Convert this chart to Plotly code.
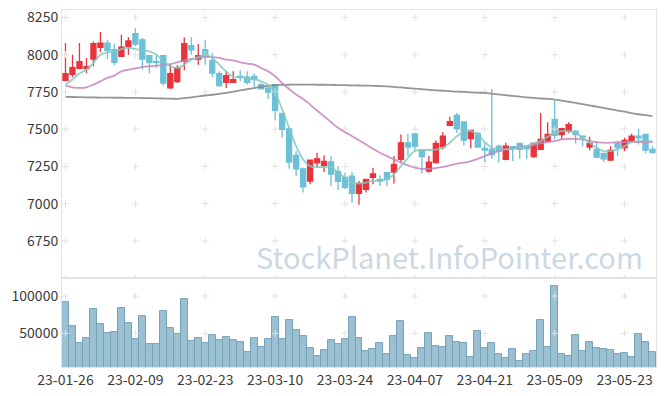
import pandas as pd
import plotly.graph_objects as go
from plotly.subplots import make_subplots

# ---- data -------------------------------------------------------------
holidays = ["2023-03-01", "2023-05-01", "2023-05-05", "2023-05-29"]
days = [d for d in pd.bdate_range("2023-01-26", "2023-05-30") if d.strftime("%Y-%m-%d") not in holidays]
dates = [d.strftime("%y-%m-%d") for d in days]

opens = [7828, 7868, 7908, 7906, 7971, 8049, 8078, 8033, 7989, 8056,
         8141, 8100, 7993, 7953, 7993, 7777, 7819, 7955, 8060, 7971,
         8033, 7960, 7873, 7815, 7815, 7855, 7850, 7855, 7799, 7775,
         7799, 7605, 7502, 7324, 7234, 7152, 7274, 7257, 7281, 7217,
         7176, 7185, 7069, 7096, 7176, 7163, 7208, 7212, 7297, 7408,
         7469, 7360, 7219, 7275, 7382, 7525, 7592, 7549, 7437, 7471,
         7371, 7364, 7386, 7297, 7382, 7404, 7382, 7315, 7364, 7420,
         7565, 7464, 7487, 7487, 7453, 7380, 7364, 7337, 7292, 7404,
         7375, 7420, 7453, 7464, 7364]
highs = [8078, 8000, 8078, 7978, 8089, 8152, 8100, 8074, 8134, 8118,
         8179, 8112, 8000, 8000, 7993, 7933, 7929, 8116, 8118, 8071,
         8100, 8011, 7888, 7888, 7888, 7895, 7888, 7873, 7810, 7783,
         7799, 7605, 7502, 7353, 7241, 7297, 7342, 7324, 7319, 7252,
         7208, 7212, 7152, 7163, 7241, 7190, 7212, 7319, 7464, 7469,
         7469, 7364, 7319, 7426, 7480, 7583, 7609, 7549, 7491, 7480,
         7408, 7770, 7397, 7408, 7386, 7404, 7386, 7404, 7609, 7547,
         7692, 7509, 7547, 7493, 7453, 7449, 7420, 7342, 7386, 7404,
         7442, 7469, 7502, 7469, 7386]
lows = [7821, 7850, 7904, 7877, 7922, 8016, 7971, 7929, 7989, 8000,
        8056, 7900, 7873, 7911, 7792, 7770, 7810, 7895, 8000, 7933,
        7933, 7850, 7783, 7777, 7810, 7821, 7800, 7783, 7766, 7703,
        7560, 7442, 7234, 7185, 7074, 7130, 7241, 7212, 7119, 7092,
        7097, 7006, 6992, 7074, 7130, 7118, 7118, 7136, 7279, 7319,
        7353, 7203, 7208, 7270, 7364, 7525, 7475, 7391, 7371, 7375,
        7279, 7301, 7275, 7292, 7286, 7301, 7301, 7308, 7364, 7420,
        7431, 7431, 7475, 7404, 7386, 7359, 7308, 7279, 7290, 7319,
        7353, 7408, 7397, 7337, 7337]
closes = [7873, 7913, 7953, 7920, 8074, 8078, 8029, 7949, 8051, 8092,
          8071, 7971, 7949, 7949, 7810, 7873, 7911, 8074, 8033, 7993,
          7989, 7877, 7792, 7859, 7833, 7848, 7815, 7833, 7770, 7748,
          7627, 7498, 7279, 7234, 7112, 7292, 7301, 7284, 7199, 7150,
          7109, 7069, 7136, 7163, 7199, 7152, 7163, 7263, 7408, 7380,
          7386, 7315, 7279, 7404, 7453, 7551, 7502, 7426, 7491, 7380,
          7360, 7330, 7353, 7386, 7371, 7364, 7368, 7404, 7431, 7464,
          7458, 7504, 7531, 7464, 7446, 7404, 7312, 7301, 7357, 7377,
          7424, 7453, 7442, 7360, 7342]
volumes = [91500, 59400, 36600, 43300, 82200, 62100, 50000, 51300, 83500, 63400,
           42000, 72800, 35300, 35300, 79500, 56700, 48700, 95600, 39300, 43300,
           36600, 47300, 40600, 44600, 40600, 37900, 24500, 43300, 31200, 42000,
           71400, 42000, 67400, 54000, 46000, 29900, 19200, 27200, 40600, 35300,
           42000, 71400, 43300, 26300, 28600, 36600, 21900, 46000, 66100, 20500,
           16500, 29900, 50000, 32600, 31200, 46000, 38400, 36600, 17800, 52700,
           29900, 36600, 21900, 16500, 28600, 12500, 21900, 25900, 67400, 31200,
           113000, 21900, 19200, 47300, 25900, 37900, 29900, 28600, 27200, 21900,
           23200, 17800, 48700, 37900, 24500]
ma5 = [7799, 7833, 7873, 7900, 7944, 8000, 8016, 8022, 8038, 8045,
       8038, 8029, 8022, 8000, 7955, 7922, 7911, 7933, 7967, 7984,
       8000, 7978, 7933, 7888, 7850, 7848, 7844, 7837, 7821, 7799,
       7743, 7632, 7509, 7386, 7297, 7252, 7246, 7246, 7246, 7208,
       7174, 7141, 7134, 7141, 7152, 7156, 7163, 7196, 7252, 7308,
       7353, 7360, 7360, 7362, 7375, 7409, 7453, 7480, 7487, 7464,
       7413, 7375, 7364, 7364, 7368, 7375, 7386, 7404, 7420, 7449,
       7475, 7487, 7487, 7475, 7442, 7409, 7375, 7353, 7353, 7364,
       7386, 7413, 7420, 7420, 7420]
ma20 = [7792, 7781, 7777, 7781, 7799, 7821, 7844, 7859, 7888, 7900,
        7908, 7917, 7922, 7926, 7931, 7937, 7949, 7960, 7971, 7978,
        7984, 7984, 7978, 7967, 7962, 7949, 7940, 7933, 7911, 7888,
        7855, 7810, 7770, 7732, 7703, 7665, 7625, 7587, 7547, 7509,
        7480, 7453, 7426, 7397, 7368, 7342, 7319, 7297, 7275, 7257,
        7241, 7234, 7234, 7239, 7246, 7257, 7268, 7275, 7286, 7301,
        7319, 7337, 7353, 7364, 7371, 7380, 7386, 7395, 7404, 7413,
        7420, 7431, 7435, 7435, 7431, 7420, 7413, 7409, 7409, 7413,
        7413, 7413, 7413, 7413, 7413]
ma60 = [7717, 7716, 7715, 7714, 7713, 7712, 7712, 7711, 7711, 7710,
        7710, 7709, 7708, 7707, 7706, 7705, 7703, 7708, 7714, 7720,
        7726, 7731, 7737, 7744, 7752, 7760, 7768, 7776, 7784, 7791,
        7796, 7797, 7798, 7799, 7799, 7799, 7798, 7798, 7797, 7796,
        7795, 7794, 7793, 7792, 7791, 7789, 7787, 7784, 7780, 7776,
        7772, 7768, 7764, 7761, 7758, 7755, 7752, 7750, 7747, 7745,
        7743, 7738, 7733, 7728, 7723, 7718, 7714, 7710, 7706, 7703,
        7699, 7692, 7684, 7676, 7668, 7660, 7651, 7643, 7634, 7625,
        7617, 7608, 7600, 7594, 7588]

price_ticks = [6750, 7000, 7250, 7500, 7750, 8000, 8250]
vol_ticks = [50000, 100000]
vol_tick_text = ["50000", "100000"]
x_ticks = dates[::10]

# ---- styles -----------------------------------------------------------
RED = "#e8343b"
BLUE = "#6cc0d8"
TEXT = "#3a3a3a"
FRAME = "#e3e3e3"
CROSS = "#e2e2e2"
FONT = "Noto Sans CJK KR"

fig = make_subplots(rows=2, cols=1, shared_xaxes=True, vertical_spacing=0,
                    row_heights=[0.751, 0.249])

fig.add_trace(go.Candlestick(
    x=dates, open=opens, high=highs, low=lows, close=closes,
    increasing=dict(line=dict(color=RED, width=1.3), fillcolor=RED),
    decreasing=dict(line=dict(color=BLUE, width=1.3), fillcolor=BLUE),
    whiskerwidth=0, showlegend=False), row=1, col=1)
fig.add_trace(go.Bar(x=dates, y=volumes, showlegend=False,
                     marker=dict(color="#9bc0d1", line=dict(color="#74a2b8", width=1))), row=2, col=1)

# grid crosses at tick intersections
gx, gy = [], []
for xv in x_ticks:
    for yv in [6500] + price_ticks:
        gx.append(xv); gy.append(yv)
fig.add_trace(go.Scatter(x=gx, y=gy, mode="markers", hoverinfo="skip", showlegend=False,
                         marker=dict(symbol="cross-thin", size=5, line=dict(width=1, color=CROSS))),
              row=1, col=1)
vx, vy = [], []
for xv in x_ticks:
    for yv in vol_ticks:
        vx.append(xv); vy.append(yv)
fig.add_trace(go.Scatter(x=vx, y=vy, mode="markers", hoverinfo="skip", showlegend=False,
                         marker=dict(symbol="cross-thin", size=5, line=dict(width=1, color=CROSS))),
              row=2, col=1)

fig.add_trace(go.Scatter(x=dates, y=ma60, mode="lines", showlegend=False,
                         line=dict(color="rgba(130,130,130,0.85)", width=1.8, shape="spline")), row=1, col=1)
fig.add_trace(go.Scatter(x=dates, y=ma20, mode="lines", showlegend=False,
                         line=dict(color="rgba(200,130,190,0.85)", width=1.8, shape="spline")), row=1, col=1)
fig.add_trace(go.Scatter(x=dates, y=ma5, mode="lines", showlegend=False,
                         line=dict(color="rgba(130,200,190,0.85)", width=1.8, shape="spline")), row=1, col=1)

fig.add_annotation(text="StockPlanet.InfoPointer.com", xref="paper", yref="paper",
                   x=0.982, y=0.311, xanchor="right", yanchor="middle", showarrow=False,
                   font=dict(family=FONT, size=29, color="rgba(185,203,216,0.75)"))

fig.update_layout(
    width=665, height=396, margin=dict(l=62, r=9, t=10, b=29),
    paper_bgcolor="white", plot_bgcolor="white", bargap=0,
    boxgap=0.15, boxgroupgap=0.15,
    font=dict(family=FONT, size=14, color=TEXT),
    xaxis_rangeslider_visible=False,
)
for r in (1, 2):
    fig.update_xaxes(type="category", categoryorder="array", categoryarray=dates,
                     range=[-0.5, len(dates) - 0.5], showgrid=False, automargin=False,
                     showline=True, linecolor=FRAME, linewidth=1, mirror=True,
                     tickvals=x_ticks, ticktext=x_ticks, ticks="", tickangle=0, row=r, col=1)
fig.update_xaxes(showticklabels=False, rangeslider=dict(visible=False), row=1, col=1)
fig.update_yaxes(range=[6500, 8300], tickvals=price_ticks, showgrid=False, zeroline=False,
                 automargin=False, showline=True, linecolor=FRAME, linewidth=1, mirror=True,
                 ticks="", row=1, col=1)
fig.update_yaxes(range=[5000, 124000], tickvals=vol_ticks, ticktext=vol_tick_text, showgrid=False,
                 zeroline=False, automargin=False, showline=True, linecolor=FRAME, linewidth=1,
                 mirror=True, ticks="", row=2, col=1)

fig.write_html("out.html", config={"displayModeBar": False},
               post_script="document.body.style.margin='0';document.body.style.overflow='hidden';")
